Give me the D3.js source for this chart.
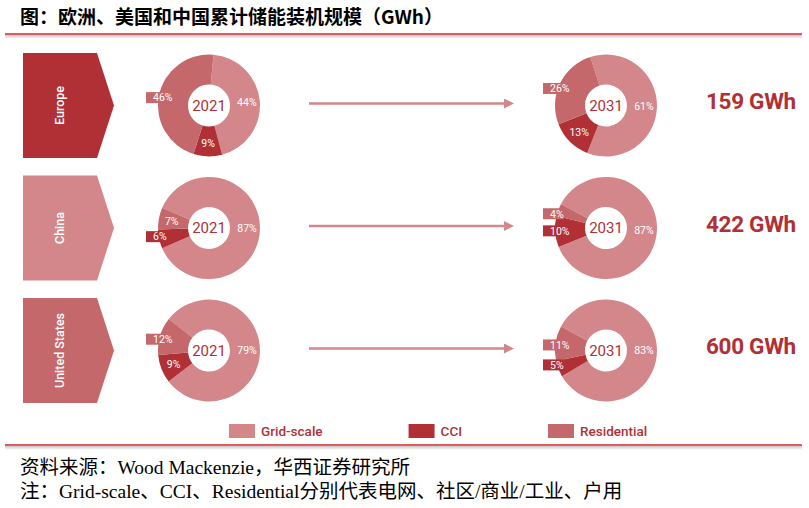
<!DOCTYPE html>
<html>
<head>
<meta charset="utf-8">
<script src="https://cdn.jsdelivr.net/npm/d3@7"></script>
<style>
  body { margin: 0; background: #fff; }
  svg { display: block; }
</style>
</head>
<body>
<script>
const countries = ['Europe', 'China', 'United States'];
const years = ['2021', '2031'];
const segments = ['Grid-scale', 'CCI', 'Residential'];
const gridShare = [[44, 61], [87, 87], [79, 83]];
const cciShare = [[9, 13], [6, 10], [9, 5]];
const resShare = [[46, 26], [7, 4], [12, 11]];
const totals2031 = [159, 422, 600];
// where the Grid-scale slice starts, degrees clockwise from 12 o'clock
const startDeg = [[5, -18], [-66.5, -62], [-52, -62]];
// slices whose label sits on a little tab left of the ring
const tabbed = [
  [['Residential'], ['Residential']],
  [['CCI'], ['CCI', 'Residential']],
  [['Residential'], ['Residential', 'CCI']]
];

const W = 809, H = 508;
const dark = '#b03036';
const color = d3.scaleOrdinal().domain(segments).range(['#d3878a', '#b03036', '#c4686b']);
const bannerColor = d3.scaleOrdinal().domain(countries).range(['#b03036', '#d3878a', '#c4686b']);

const svg = d3.select('body').append('svg').attr('width', W).attr('height', H);
const defs = svg.append('defs');

const shadow = defs.append('linearGradient').attr('id', 'shadow')
  .attr('x1', 0).attr('y1', 0).attr('x2', 0).attr('y2', 1);
shadow.append('stop').attr('offset', '0%').attr('stop-color', '#c8c8c8');
shadow.append('stop').attr('offset', '100%').attr('stop-color', '#ffffff');

defs.append('marker').attr('id', 'arrow')
  .attr('viewBox', '0 0 10 10').attr('refX', 5).attr('refY', 5)
  .attr('markerWidth', 4).attr('markerHeight', 4).attr('orient', 'auto')
  .append('path').attr('d', 'M0,0 L10,5 L0,10 Z').attr('fill', '#d4878b');

const rowY = d3.scalePoint().domain(countries).range([105.5, 350.5]);
const donutX = d3.scalePoint().domain(years).range([209, 606]);
const rOuter = 51, rInner = 21;

// title + rule
svg.append('text')
  .attr('x', 20).attr('y', 24)
  .attr('font-family', '"Noto Sans CJK SC", sans-serif')
  .attr('font-weight', 700).attr('font-size', 19)
  .text('图：欧洲、美国和中国累计储能装机规模（GWh）');

function rule(y) {
  svg.append('rect').attr('x', 5).attr('y', y + 1).attr('width', 797).attr('height', 4).attr('fill', 'url(#shadow)');
  svg.append('line').attr('x1', 5).attr('x2', 802).attr('y1', y).attr('y2', y)
    .attr('stroke', '#d9232b').attr('stroke-width', 1.6);
}
rule(34);
rule(445);

// country banners
const bannerW = 74, tipW = 17, bannerH = 105, bannerX = 23;
countries.forEach(c => {
  const cy = rowY(c);
  const pts = [
    [bannerX, cy - bannerH / 2], [bannerX + bannerW, cy - bannerH / 2], [bannerX + bannerW + tipW, cy],
    [bannerX + bannerW, cy + bannerH / 2], [bannerX, cy + bannerH / 2]
  ];
  svg.append('path').attr('d', d3.line()(pts) + 'Z').attr('fill', bannerColor(c));
  svg.append('text')
    .attr('transform', `translate(${bannerX + 36},${cy}) rotate(-90)`)
    .attr('text-anchor', 'middle').attr('dy', '0.36em')
    .attr('font-family', 'Roboto, sans-serif').attr('font-weight', 500).attr('font-size', 12.5)
    .attr('fill', '#fff').text(c);
});

// donuts
const arc = d3.arc().innerRadius(rInner).outerRadius(rOuter);
const labelArc = d3.arc().innerRadius(38).outerRadius(38);
const tabArc = d3.arc().innerRadius(40).outerRadius(40);
const shares = [gridShare, cciShare, resShare];

countries.forEach((c, i) => {
  years.forEach((yr, j) => {
    const cx = donutX(yr), cy = rowY(c);
    const a0 = startDeg[i][j] * Math.PI / 180;
    const pie = d3.pie().sort(null).value(d => d.v).startAngle(a0).endAngle(a0 + 2 * Math.PI);
    const data = pie(segments.map((s, k) => ({ seg: s, v: shares[k][i][j] })));
    const g = svg.append('g').attr('transform', `translate(${cx},${cy})`);

    g.selectAll('path.slice').data(data).enter().append('path')
      .attr('class', 'slice').attr('d', arc).attr('fill', d => color(d.data.seg));

    data.forEach(d => {
      if (tabbed[i][j].includes(d.data.seg)) {
        const ty = tabArc.centroid(d)[1];
        g.append('rect').attr('x', -63).attr('y', ty - 5.5).attr('width', 21).attr('height', 11)
          .attr('fill', color(d.data.seg));
        g.append('text').attr('x', -56).attr('y', ty).attr('dy', '0.36em')
          .attr('font-family', 'Roboto, sans-serif').attr('font-size', 10.5).attr('fill', '#fff')
          .text(d.data.v + '%');
      } else {
        const [lx, ly] = labelArc.centroid(d);
        g.append('text').attr('x', lx).attr('y', ly).attr('dy', '0.36em')
          .attr('text-anchor', 'middle')
          .attr('font-family', 'Roboto, sans-serif').attr('font-size', 10.5).attr('fill', '#fff')
          .text(d.data.v + '%');
      }
    });

    g.append('text').attr('text-anchor', 'middle').attr('dy', '0.36em')
      .attr('font-family', 'Roboto, sans-serif').attr('font-weight', 400).attr('font-size', 15)
      .attr('fill', dark).text(yr);
  });

  // arrow between the two years
  const ay = rowY(c) - 2;
  svg.append('line')
    .attr('x1', donutX('2021') + 100).attr('x2', donutX('2031') - 97)
    .attr('y1', ay).attr('y2', ay)
    .attr('stroke', '#d4878b').attr('stroke-width', 2.5)
    .attr('marker-end', 'url(#arrow)');

  // 2031 total
  svg.append('text')
    .attr('x', 706).attr('y', rowY(c) + 3.5)
    .attr('font-family', 'Roboto, sans-serif').attr('font-weight', 700).attr('font-size', 22.5)
    .attr('letter-spacing', -0.3)
    .attr('fill', dark).text(totals2031[i] + ' GWh');
});

// legend
const legend = svg.append('g');
let lx = 229;
segments.forEach(s => {
  legend.append('rect').attr('x', lx).attr('y', 424).attr('width', 26).attr('height', 14).attr('fill', color(s));
  const t = legend.append('text').attr('x', lx + 32).attr('y', 436)
    .attr('font-family', 'Roboto, sans-serif').attr('font-weight', 500).attr('font-size', 13.5)
    .attr('fill', dark).text(s);
  lx += 32 + t.node().getComputedTextLength() + 86;
});

// source notes
const notes = [
  '资料来源：Wood Mackenzie，华西证券研究所',
  '注：Grid-scale、CCI、Residential分别代表电网、社区/商业/工业、户用'
];
svg.selectAll('text.note').data(notes).enter().append('text')
  .attr('class', 'note')
  .attr('x', 20).attr('y', (d, k) => 474 + k * 24)
  .attr('font-family', '"Liberation Serif", "Noto Sans CJK SC", serif')
  .attr('font-size', 19.5)
  .text(d => d);
</script>
</body>
</html>
